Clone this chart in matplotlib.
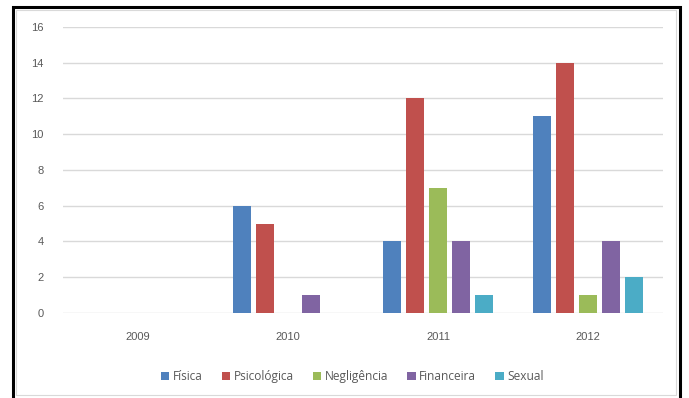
import numpy as np
import matplotlib.pyplot as plt
from matplotlib.patches import Rectangle

plt.rcParams['font.family'] = ['Liberation Sans Narrow', 'Liberation Sans', 'DejaVu Sans']

anos = ['2009', '2010', '2011', '2012']
tipos = ['Física', 'Psicológica', 'Negligência', 'Financeira', 'Sexual']
fisica = [0, 6, 4, 11]
psicologica = [0, 5, 12, 14]
negligencia = [0, 0, 7, 1]
financeira = [0, 1, 4, 4]
sexual = [0, 0, 1, 2]
cores = ['#4F81BD', '#C0504D', '#9BBB59', '#8064A2', '#4BACC6']

series = [fisica, psicologica, negligencia, financeira, sexual]

fig = plt.figure(figsize=(6.89, 3.98), dpi=100)
ax = fig.add_axes([0.0914, 0.2136, 0.8709, 0.7186])

x = np.arange(len(anos))
passo = 0.153
largura = 0.12
for i, (vals, nome, cor) in enumerate(zip(series, tipos, cores)):
    ax.bar(x + (i - 2) * passo, vals, largura, color=cor, label=nome, linewidth=0, zorder=3)

ax.set_xlim(-0.5, 3.5)
ax.set_ylim(0, 16)
ax.set_yticks(range(0, 17, 2))
ax.set_xticks(x)
ax.set_xticklabels(anos)
ax.grid(axis='y', color='#D9D9D9', linewidth=1, zorder=0)
for s in ax.spines.values():
    s.set_visible(False)
ax.tick_params(axis='both', length=0, labelsize=8, colors='#595959')
ax.tick_params(axis='y', pad=14)
ax.tick_params(axis='x', pad=14)

leg = ax.legend(loc='center', bbox_to_anchor=(0.482, -0.222), ncol=5, frameon=False,
                prop={'family': ['Open Sans', 'DejaVu Sans'], 'size': 8.6},
                handlelength=0.7, handleheight=0.7, handletextpad=0.3,
                columnspacing=1.6, labelcolor='#595959')

# moldura preta em volta do gráfico
fig.patches.append(Rectangle((12.5 / 689, -0.02), 667 / 689, 1 - 6.5 / 398 + 0.02,
                             transform=fig.transFigure, fill=False,
                             edgecolor='black', linewidth=2.2))
fig.patches.append(Rectangle((16 / 689, 3 / 398), 660 / 689, 1 - 13 / 398,
                             transform=fig.transFigure, fill=False,
                             edgecolor='#D9D9D9', linewidth=0.8))

fig.savefig('out.png', dpi=100)
